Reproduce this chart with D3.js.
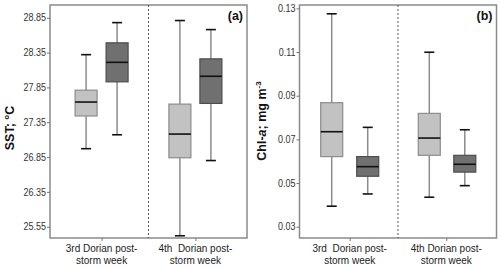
<!DOCTYPE html>
<html><head><meta charset="utf-8">
<script src="https://cdn.jsdelivr.net/npm/d3@7"></script>
<style>body{margin:0;background:#fff}svg{display:block}text{font-family:"Liberation Sans",Arial,sans-serif}</style>
</head><body><svg id="c" width="500" height="268"></svg>
<script>
// Categories and series
const groups = ["3rd Dorian post-|storm week", "4th  Dorian post-|storm week"];
const groupsB = ["3rd  Dorian post-|storm week", "4th Dorian post-|storm week"];
const seriesNames = ["light", "dark"];
// SST box stats [min, q1, median, q3, max] per group, per series
const sstLight = [[26.97, 27.44, 27.64, 27.81, 28.32], [25.72, 26.84, 27.18, 27.61, 28.81]];
const sstDark  = [[27.17, 27.93, 28.21, 28.49, 28.78], [26.80, 27.62, 28.01, 28.26, 28.68]];
// Chl-a box stats
const chlLight = [[0.0394, 0.0621, 0.0735, 0.0868, 0.1275], [0.0435, 0.0627, 0.0706, 0.0819, 0.1099]];
const chlDark  = [[0.0450, 0.0531, 0.0575, 0.0621, 0.0755], [0.0488, 0.0550, 0.0586, 0.0627, 0.0744]];
// Tick values and labels
const sstTickVals = [28.85, 28.35, 27.85, 27.35, 26.85, 26.35, 25.85];
const sstTickLabels = ["28.85", "28.35", "27.85", "27.35", "26.85", "26.35", "25.55"];
const chlTickVals = [0.13, 0.11, 0.09, 0.07, 0.05, 0.03];
const chlTickLabels = ["0.13", "0.11", "0.09", "0.07", "0.05", "0.03"];

const svg = d3.select("#c");
const fills = {light: "#c2c2c2", dark: "#707070"};
const strokes = {light: "#8c8c8c", dark: "#4d4d4d"};

function panel(o) {
  const g = svg.append("g");
  const x0 = d3.scalePoint().domain(o.groups).range([o.left, o.right]).padding(o.pad);
  const y = d3.scaleLinear().domain(o.domain).range([o.bottom, o.top]);
  g.append("rect").attr("x", o.left).attr("y", o.top).attr("width", o.right - o.left).attr("height", o.bottom - o.top)
    .attr("fill", "none").attr("stroke", "#8a8a8a").attr("stroke-width", 1.5);
  const mid = (x0(o.groups[0]) + x0(o.groups[1])) / 2;
  g.append("line").attr("x1", mid).attr("x2", mid).attr("y1", o.top).attr("y2", o.bottom)
    .attr("stroke", "#555").attr("stroke-width", 1).attr("stroke-dasharray", "2,2");
  const ya = d3.axisLeft(y).tickValues(o.tickVals).tickSize(3).tickPadding(1)
    .tickFormat((d, i) => o.tickLabels[i]);
  const yg = g.append("g").attr("transform", `translate(${o.left},0)`).call(ya);
  yg.select(".domain").remove();
  yg.selectAll(".tick line").attr("stroke", "#777");
  yg.selectAll(".tick text").attr("font-size", 10).attr("fill", "#333").attr("font-family", "Liberation Sans, Arial, sans-serif")
    .attr("transform", "scale(0.9,1)").attr("x", -4 / 0.9);
  const xa = d3.axisBottom(x0).tickSize(3).tickFormat("");
  const xg = g.append("g").attr("transform", `translate(0,${o.bottom})`).call(xa);
  xg.select(".domain").remove();
  xg.selectAll(".tick line").attr("stroke", "#777");
  o.groups.forEach(gr => {
    const lines = gr.split("|");
    const t = g.append("text").attr("text-anchor", "middle").attr("font-size", 10).attr("fill", "#222");
    lines.forEach((l, i) => t.append("tspan").attr("x", x0(gr)).attr("y", 252 + i * 11.5).attr("xml:space", "preserve").text(l));
  });
  const bw = 22;
  const data = [];
  o.groups.forEach((gr, gi) => {
    data.push({s: "light", cx: x0(gr) + o.off[gi][0], v: o.light[gi]});
    data.push({s: "dark", cx: x0(gr) + o.off[gi][1], v: o.dark[gi]});
  });
  data.forEach(d => {
    const [mn, q1, md, q3, mx] = d.v;
    g.append("line").attr("x1", d.cx).attr("x2", d.cx).attr("y1", y(mx)).attr("y2", y(mn))
      .attr("stroke", "#8c8c8c").attr("stroke-width", 1.5);
    [mn, mx].forEach(v => g.append("line").attr("x1", d.cx - 5).attr("x2", d.cx + 5).attr("y1", y(v)).attr("y2", y(v))
      .attr("stroke", "#111").attr("stroke-width", 1.6));
    g.append("rect").attr("x", d.cx - bw / 2).attr("width", bw).attr("y", y(q3)).attr("height", y(q1) - y(q3))
      .attr("fill", fills[d.s]).attr("stroke", strokes[d.s]).attr("stroke-width", 1.2);
    g.append("line").attr("x1", d.cx - bw / 2).attr("x2", d.cx + bw / 2).attr("y1", y(md)).attr("y2", y(md))
      .attr("stroke", "#111").attr("stroke-width", 1.6);
  });
  g.append("text").attr("x", o.right - 4).attr("y", o.top + 15).attr("text-anchor", "end")
    .attr("font-size", 12.5).attr("font-weight", "bold").attr("fill", "#111").text(o.tag);
  return g;
}

panel({groups, left: 50, right: 247, top: 5, bottom: 238, pad: 0.55, domain: [25.688, 29.033],
  tickVals: sstTickVals, tickLabels: sstTickLabels, light: sstLight, dark: sstDark,
  off: [[-15.5, 15.5], [-15.5, 15.5]], tag: "(a)"});
panel({groups: groupsB, left: 299.5, right: 496.5, top: 5, bottom: 238, pad: 0.52, domain: [0.02483, 0.13153],
  tickVals: chlTickVals, tickLabels: chlTickLabels, light: chlLight, dark: chlDark,
  off: [[-18, 18], [-17, 18.5]], tag: "(b)"});

svg.append("text").attr("transform", "translate(14,128) rotate(-90)").attr("text-anchor", "middle")
  .attr("font-size", 12.5).attr("font-weight", "bold").attr("fill", "#111").text("SST; °C");
const t2 = svg.append("text").attr("transform", "translate(266,121) rotate(-90)").attr("text-anchor", "middle")
  .attr("font-size", 12.5).attr("font-weight", "bold").attr("fill", "#111");
t2.append("tspan").text("Chl-");
t2.append("tspan").attr("font-style", "italic").text("a");
t2.append("tspan").text("; mg m");
t2.append("tspan").attr("font-size", 8).attr("dy", -5).text("-3");
</script></body></html>
